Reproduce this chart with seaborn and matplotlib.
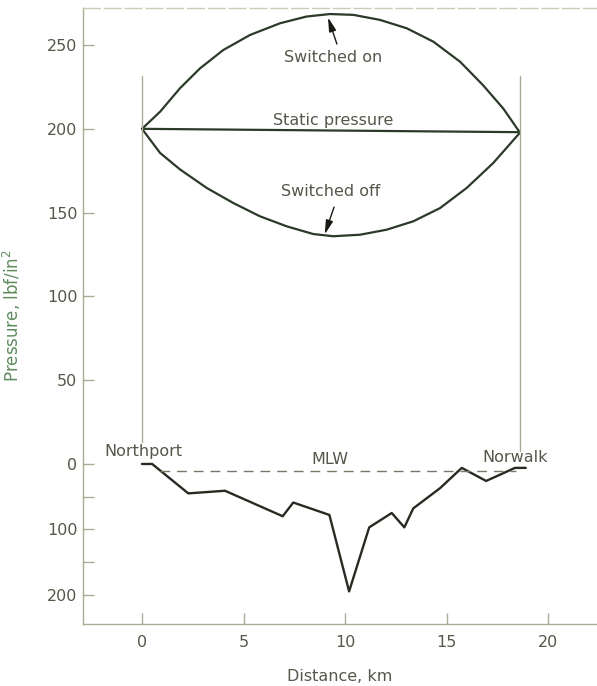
import matplotlib
matplotlib.use("Agg")
import matplotlib.pyplot as plt
import seaborn as sns
import pandas as pd

# ---- data ----
on_km = [0.0, 0.89, 1.87, 2.86, 4.0, 5.32, 6.8, 8.1, 9.26, 10.41, 11.72, 13.04,
         14.35, 15.67, 16.8, 17.8, 18.6]
on_p = [200, 210.2, 224.2, 236.1, 247, 256, 263, 267, 268.5, 268, 265, 260,
        252, 240, 226, 212, 198]

off_km = [0.0, 0.89, 1.87, 3.19, 4.5, 5.81, 7.13, 8.44, 9.42, 10.74, 12.05, 13.36,
          14.68, 15.99, 17.3, 18.6]
off_p = [200, 185.6, 175.8, 164.7, 155.7, 147.8, 141.8, 137.2, 135.9, 136.8, 139.8,
         144.8, 152.7, 164.7, 179.6, 197.5]

static_km = [0.0, 18.6]
static_p = [200, 198]

bed_km = [0.0, 0.5, 2.28, 4.09, 6.93, 7.45, 9.23, 10.2, 11.19, 12.3, 12.92, 13.36,
          14.68, 15.75, 16.95, 18.37, 18.9]
bed_depth_ft = [0, 0, 45, 41, 80, 59, 78, 195, 97, 75, 97, 68, 37, 6, 26, 6, 6]

mlw_km = [0.9, 18.4]
mlw_depth_ft = [10, 10]

pressure_ticks = [250, 200, 150, 100, 50, 0]
depth_ticks = [100, 200]
depth_minor = [50, 150]
x_ticks = [0, 5, 10, 15, 20]

FT_TO_P = 0.39  # vertical scale of the depth section in pressure-axis units per foot

# ---- style ----
sns.set_theme(style="white")
plt.rcParams['font.family'] = ['DejaVu Sans']

TXT = "#55574a"
AX = "#a9ab95"
CURVE = "#2c3a2a"
GREEN = "#5f8c5f"

fig = plt.figure(figsize=(5.97, 6.86), dpi=100)
ax = fig.add_axes([83/597, 62/686, 1 - 83/597, 616/686])

df_curves = pd.concat([
    pd.DataFrame({"km": on_km, "p": on_p, "s": "on"}),
    pd.DataFrame({"km": off_km, "p": off_p, "s": "off"}),
    pd.DataFrame({"km": static_km, "p": static_p, "s": "static"}),
])
for s in ["on", "off", "static"]:
    d = df_curves[df_curves.s == s]
    sns.lineplot(data=d, x="km", y="p", ax=ax, color=CURVE, lw=1.6, sort=False)

bed = pd.DataFrame({"km": bed_km, "y": [-FT_TO_P * v for v in bed_depth_ft]})
sns.lineplot(data=bed, x="km", y="y", ax=ax, color="#2a2a22", lw=1.7, sort=False)
mlw = pd.DataFrame({"km": mlw_km, "y": [-FT_TO_P * v for v in mlw_depth_ft]})
sns.lineplot(data=mlw, x="km", y="y", ax=ax, color="#77786a", lw=1.0,
             linestyle=(0, (7, 5)), sort=False)

# station verticals
ax.plot([0, 0], [13, 231.5], color=AX, lw=1.0)
ax.plot([18.6, 18.6], [8, 231.5], color=AX, lw=1.0)

# annotations
fs = 11.5
ax.text(9.41, 242.8, "Switched on", ha="center", va="center", fontsize=fs, color=TXT)
ax.text(9.41, 205, "Static pressure", ha="center", va="center", fontsize=fs, color=TXT)
ax.text(9.31, 162.3, "Switched off", ha="center", va="center", fontsize=fs, color=TXT)
ax.text(0.05, 7.2, "Northport", ha="center", va="center", fontsize=fs, color=TXT)
ax.text(9.26, 2.4, "MLW", ha="center", va="center", fontsize=fs, color=TXT)
ax.text(18.4, 3.9, "Norwalk", ha="center", va="center", fontsize=fs, color=TXT)

ap = dict(arrowstyle="-|>,head_length=0.7,head_width=0.18", color="#1a1a14", lw=1.0,
          shrinkA=0, shrinkB=0)
ax.annotate("", xy=(9.16, 266.5), xytext=(9.6, 250.6), arrowprops=ap)
ax.annotate("", xy=(9.0, 137.0), xytext=(9.46, 153.3), arrowprops=ap)

# axes
ax.set_xlim(-2.906, 22.41)
ax.set_ylim(-95.5, 272.1)
ytick_pos = pressure_ticks + [-FT_TO_P * d for d in depth_ticks]
ytick_lab = [str(v) for v in pressure_ticks] + [str(d) for d in depth_ticks]
ax.set_yticks(ytick_pos)
ax.set_yticklabels(ytick_lab)
ax.set_yticks([-FT_TO_P * d for d in depth_minor], minor=True)
ax.set_xticks(x_ticks)
ax.set_xticklabels([str(v) for v in x_ticks])
ax.tick_params(axis="both", which="both", direction="in", length=8, width=1.0,
               color=AX, labelcolor=TXT, labelsize=11.5)
ax.tick_params(axis="y", which="both", left=True, pad=4)
ax.tick_params(axis="x", bottom=True, pad=8)

for side in ["left", "bottom"]:
    ax.spines[side].set_color(AX)
    ax.spines[side].set_linewidth(1.0)
ax.spines["right"].set_visible(False)
ax.spines["top"].set_color("#c9cbb6")
ax.spines["top"].set_linewidth(1.0)
ax.spines["top"].set_linestyle((0, (12, 3)))

ax.set_xlabel("Distance, km", fontsize=11.5, color=TXT)
ax.xaxis.set_label_coords(0.5, -0.073)
ax.set_ylabel("Pressure, lbf/in$^2$", fontsize=12, color=GREEN)
ax.yaxis.set_label_coords(-0.116, 0.5)

fig.savefig("out.png", dpi=100)
